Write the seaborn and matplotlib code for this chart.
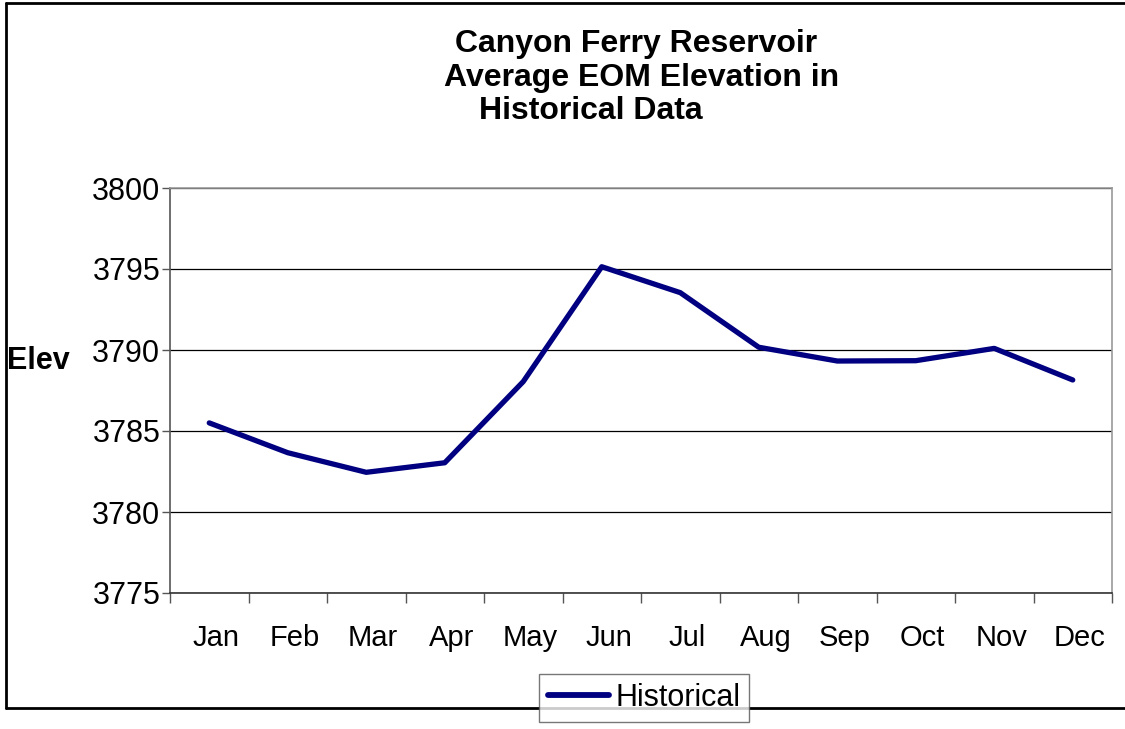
import matplotlib
matplotlib.use("Agg")
import matplotlib.pyplot as plt
import matplotlib.transforms as mtransforms
from matplotlib.lines import Line2D
import seaborn as sns
import pandas as pd
import numpy as np

months = ["Jan", "Feb", "Mar", "Apr", "May", "Jun", "Jul", "Aug", "Sep", "Oct", "Nov", "Dec"]
historical = [3785.5, 3783.66, 3782.45, 3783.04, 3788.05, 3795.14, 3793.54, 3790.17, 3789.32, 3789.34, 3790.1, 3788.15]
yticks = [3775, 3780, 3785, 3790, 3795, 3800]
title_lines = ["Canyon Ferry Reservoir", "Average EOM Elevation in", "Historical Data"]
series_name = "Historical"
ylabel = "Elev"

sns.set_style("white")
plt.rcParams["font.family"] = ["Liberation Sans", "DejaVu Sans"]
plt.rcParams["text.color"] = "black"
plt.rcParams["xtick.color"] = "black"
plt.rcParams["ytick.color"] = "black"
plt.rcParams["xtick.labelcolor"] = "black"
plt.rcParams["ytick.labelcolor"] = "black"

W, H = 1125, 729
fig = plt.figure(figsize=(W / 100, H / 100), dpi=100)
ax = fig.add_axes([170 / W, 1 - 593 / H, (1112 - 170) / W, (593 - 188) / H])

df = pd.DataFrame({"Month": months, "Elev": historical, "Series": series_name})
sns.lineplot(data=df, x="Month", y="Elev", hue="Series", palette=["#000080"],
             linewidth=3.8, ax=ax, legend=False, sort=False)

ax.set_xlim(-0.5, len(months) - 0.5)
ax.set_ylim(yticks[0], yticks[-1])
ax.set_yticks(yticks)
ax.set_yticklabels([str(v) for v in yticks], fontsize=22, color="black")
ax.set_xticks(range(len(months)))
ax.set_xticklabels(months, fontsize=21, color="black")
ax.set_xticks(np.arange(-0.5, len(months), 1.0), minor=True)
ax.tick_params(axis="x", which="major", length=0, pad=22, bottom=True)
ax.tick_params(axis="x", which="minor", length=7, width=1, color="#555555", direction="out", bottom=True)
ax.tick_params(axis="y", which="major", length=6, width=1, color="#555555", direction="out", pad=1, left=True)
ax.set_xlabel("")
ax.set_ylabel("")
offset = mtransforms.ScaledTranslation(7 / 100, 0, fig.dpi_scale_trans)
for lab in ax.get_xticklabels():
    lab.set_transform(lab.get_transform() + offset)

ax.yaxis.grid(True, color="black", linewidth=0.9)
ax.set_axisbelow(True)
for side, col in [("top", "#999999"), ("right", "#999999"), ("left", "#555555"), ("bottom", "#333333")]:
    ax.spines[side].set_visible(True)
    ax.spines[side].set_color(col)
    ax.spines[side].set_linewidth(1.2)

# Title (three lines, as placed in the reference)
for txt, xc, yc in zip(title_lines, [636, 642, 591], [44, 78, 111]):
    fig.text(xc / W, 1 - yc / H, txt, ha="center", va="center", fontsize=23, fontweight="bold", color="black")

fig.text(7 / W, 1 - 361 / H, ylabel, ha="left", va="center", fontsize=22, fontweight="bold", color="black")

# Legend
handles = [Line2D([], [], color="#000080", linewidth=4.2)]
leg = fig.legend(handles, [series_name], loc="center", bbox_to_anchor=(644 / W, 1 - 698 / H),
                 frameon=True, fancybox=False, fontsize=22, handlelength=2.0, handletextpad=0.2,
                 borderpad=0.3, borderaxespad=0)
leg.get_frame().set_edgecolor("#555555")
leg.get_frame().set_linewidth(1.0)
for t in leg.get_texts():
    t.set_color("black")

# Outer border (left, top, bottom)
fig.add_artist(Line2D([6 / W, 6 / W], [1 - 3 / H, 1 - 708 / H], transform=fig.transFigure, color="black", linewidth=2))
fig.add_artist(Line2D([6 / W, 1.0], [1 - 3 / H, 1 - 3 / H], transform=fig.transFigure, color="black", linewidth=2))
fig.add_artist(Line2D([6 / W, 1.0], [1 - 708 / H, 1 - 708 / H], transform=fig.transFigure, color="black", linewidth=2))

fig.savefig("out.png", dpi=100)
